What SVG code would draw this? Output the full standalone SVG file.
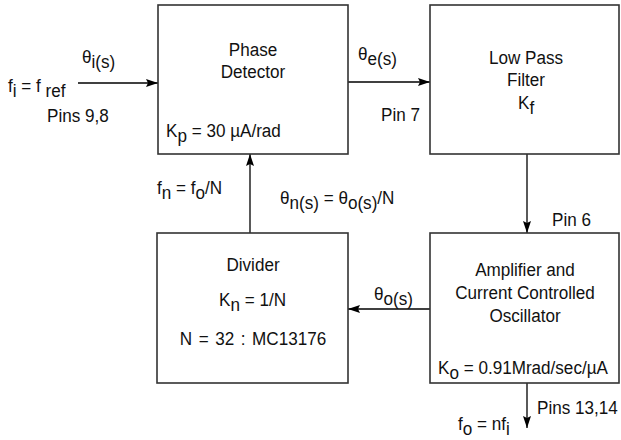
<svg xmlns="http://www.w3.org/2000/svg" width="621" height="440" viewBox="0 0 621 440">
<defs>
<style>
.box{fill:#fff;stroke:#333;stroke-width:1.6}
.ln{fill:none;stroke:#000;stroke-width:1.3}
text{font-family:"Liberation Sans",Arial,sans-serif;font-size:19px;fill:#111}
.c{text-anchor:middle}
</style>
<marker id="ah" markerUnits="userSpaceOnUse" markerWidth="12" markerHeight="8" refX="12" refY="4" orient="auto">
<path d="M0,0 L12,4 L0,8 L2,4 z" fill="#000"/>
</marker>
</defs>
<rect width="621" height="440" fill="#fff"/>
<g id="connectors">
<line class="ln" x1="78" y1="83" x2="158" y2="83" marker-end="url(#ah)"/>
<line class="ln" x1="348" y1="82" x2="430" y2="82" marker-end="url(#ah)"/>
<line class="ln" x1="527" y1="154" x2="527" y2="233" marker-end="url(#ah)"/>
<line class="ln" x1="430" y1="309" x2="348" y2="309" marker-end="url(#ah)"/>
<line class="ln" x1="250" y1="233" x2="250" y2="154" marker-end="url(#ah)"/>
<line class="ln" x1="527" y1="383" x2="527" y2="428" marker-end="url(#ah)"/>
</g>
<g id="labels">
<text transform="translate(82,63) scale(0.9,1)">θ<tspan dy="5">i(s)</tspan></text>
<text transform="translate(8,92) scale(0.9,1)">f<tspan dy="5">i</tspan><tspan dy="-5"> = f</tspan><tspan dy="5"> ref</tspan></text>
<text transform="translate(47,122) scale(0.9,1)">Pins 9,8</text>
<text transform="translate(358,60) scale(0.9,1)">θ<tspan dy="5">e(s)</tspan></text>
<text transform="translate(381,121) scale(0.9,1)">Pin 7</text>
<text transform="translate(552,226) scale(0.9,1)">Pin 6</text>
<text transform="translate(157,194) scale(0.9,1)">f<tspan dy="5">n</tspan><tspan dy="-5"> = f</tspan><tspan dy="5">o</tspan><tspan dy="-5">/N</tspan></text>
<text transform="translate(280,204) scale(0.9,1)">θ<tspan dy="5">n(s)</tspan><tspan dy="-5"> = θ</tspan><tspan dy="5">o(s)</tspan><tspan dy="-5">/N</tspan></text>
<text transform="translate(374,300) scale(0.9,1)">θ<tspan dy="5">o(s)</tspan></text>
<text transform="translate(537,414) scale(0.9,1)">Pins 13,14</text>
<text transform="translate(458,430) scale(0.9,1)">f<tspan dy="5">o</tspan><tspan dy="-5"> = nf</tspan><tspan dy="5">i</tspan></text>
</g>
<g id="phase-detector">
<rect class="box" x="158" y="5" width="190" height="149"/>
<text class="c" transform="translate(253,56) scale(0.9,1)">Phase</text>
<text class="c" transform="translate(253,78) scale(0.9,1)">Detector</text>
<text transform="translate(166,137) scale(0.9,1)">K<tspan dy="5">p</tspan><tspan dy="-5"> = 30 µA/rad</tspan></text>
</g>
<g id="low-pass-filter">
<rect class="box" x="430" y="5" width="189" height="149"/>
<text class="c" transform="translate(526,64) scale(0.9,1)">Low Pass</text>
<text class="c" transform="translate(526,86) scale(0.9,1)">Filter</text>
<text transform="translate(518,109) scale(0.9,1)">K<tspan dy="5">f</tspan></text>
</g>
<g id="divider">
<rect class="box" x="157" y="233" width="191" height="150"/>
<text class="c" transform="translate(253,271) scale(0.9,1)">Divider</text>
<text transform="translate(219,306) scale(0.9,1)">K<tspan dy="5">n</tspan><tspan dy="-5"> = 1/N</tspan></text>
<text class="c" transform="translate(253,345) scale(0.9,1)" word-spacing="2">N = 32 : MC13176</text>
</g>
<g id="amplifier-cco">
<rect class="box" x="430" y="233" width="189" height="150"/>
<text class="c" transform="translate(525,276) scale(0.9,1)">Amplifier and</text>
<text class="c" transform="translate(525,299) scale(0.9,1)">Current Controlled</text>
<text class="c" transform="translate(525,322) scale(0.9,1)">Oscillator</text>
<text transform="translate(438,374) scale(0.9,1)">K<tspan dy="5">o</tspan><tspan dy="-5"> = 0.91Mrad/sec/µA</tspan></text>
</g>
</svg>
